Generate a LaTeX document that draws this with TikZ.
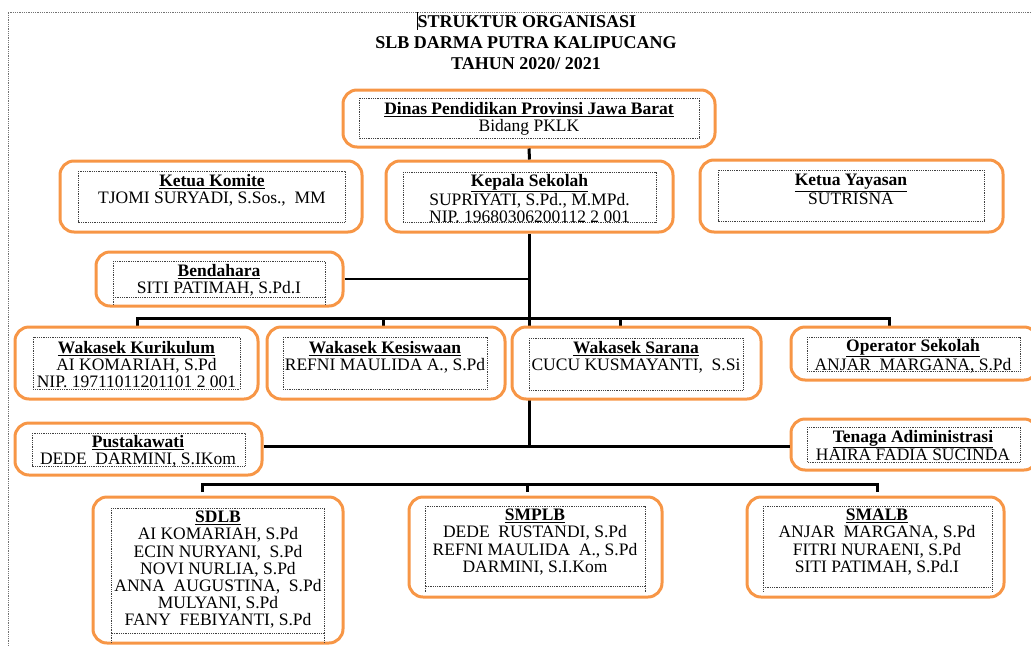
\documentclass[tikz,border=0pt]{standalone}
\usepackage{fontspec}
\setmainfont{Liberation Serif}
\usetikzlibrary{calc}
\definecolor{borange}{RGB}{247,150,70}
\newcommand{\orgbox}[9]{%
  \node[obx, minimum width={(#4-#2)*1pt}, minimum height={(#5-#3)*1pt}] (#1) at ({(#2+#4)/2},{(#3+#5)/2}) {};
  \draw[inbox] (#6,#7) rectangle (#8,#9);}
\newcommand{\hd}[1]{\textbf{\underline{#1}}}
\begin{document}
\begin{tikzpicture}[x=1pt,y=-1pt,
  obx/.style={draw=borange, line width=3pt, rounded corners=14pt, fill=white, inner sep=0pt},
  inbox/.style={draw=black!75, densely dotted, line width=0.8pt},
  conn/.style={draw=black, line width=3pt, line join=miter},
  txt/.style={align=center, inner sep=0pt, anchor=north, font=\fontsize{17.5}{17.2}\selectfont},
  ttl/.style={inner sep=0pt, font=\fontsize{18}{20}\selectfont\bfseries},
  pageb/.style={draw=black!55, densely dotted, line width=0.8pt}
]
\useasboundingbox (0,0) rectangle (1031,646);
% page border
\draw[pageb] (1031,12) -- (8,12) -- (8,646);
% title
\node[ttl] (t1) at (527,22) {STRUKTUR ORGANISASI};
\node[ttl] (t2) at (526,43) {SLB DARMA PUTRA KALIPUCANG};
\node[ttl] (t3) at (526,64) {TAHUN 2020/ 2021};
\draw[black, line width=1.2pt] (t1.west |- 0,12) -- (t1.west |- 0,30);

% coordinates for connectors
\coordinate (pj) at (530,446);
\coordinate (b1L) at (137,318);
\coordinate (b1K) at (383,318);
\coordinate (b1S) at (620,318);
\coordinate (b1R) at (889,318);
\coordinate (b3L) at (202,484);
\coordinate (b3M) at (527,484);
\coordinate (b3R) at (877,484);

% --- upper boxes ---
\orgbox{dinas}{343}{90}{715}{147}{359}{98}{699}{138}
\orgbox{komite}{60}{161}{362}{232}{78}{171}{345}{222}
\orgbox{kepala}{386}{161}{673}{232}{403}{172}{656}{222}
\orgbox{yayasan}{700}{160}{1003}{232}{718}{170}{984}{221}
\orgbox{bend}{96}{252}{343}{306}{113}{261}{325}{297}
\draw[inbox] (113,297) -- (113,305) (325,297) -- (325,305);

% connectors that lie behind the lower boxes
\draw[conn] (dinas.south) -- (kepala.north);
\draw[conn] (kepala.south) -- (kepala.south |- pj);
\draw[conn, line width=2.2pt] (bend.east) -- (bend.east -| kepala.south);
\draw[conn] ($(b1L)+(0,9)$) -- (b1L) -- (b1R) -- ($(b1R)+(0,9)$);
\draw[conn] (b1K) -- ++(0,8);
\draw[conn] (b1S) -- ++(0,8);
\draw[conn] ($(b3L)+(0,8)$) -- (b3L) -- (b3R) -- ($(b3R)+(0,8)$);
\draw[conn] (b3M) -- ++(0,8);

% --- lower boxes ---
\orgbox{kur}{15}{327}{258}{399}{33}{337}{240}{389}
\orgbox{kes}{267}{327}{505}{399}{283}{337}{487}{389}
\orgbox{sar}{512}{327}{761}{399}{529}{338}{743}{390}
\orgbox{op}{791}{327}{1038}{380}{807}{337}{1020}{371}
\orgbox{pust}{15}{423}{262}{475}{32}{433}{245}{466}
\orgbox{ten}{791}{419}{1038}{470}{807}{427}{1020}{462}
\orgbox{sdlb}{93}{497}{343}{643}{111}{508}{324}{633}
\draw[inbox] (111,633) -- (111,643) (324,633) -- (324,643);
\orgbox{smplb}{409}{497}{662}{597}{425}{506}{645}{586}
\draw[inbox] (425,586) -- (425,592) (645,586) -- (645,592);
\orgbox{smalb}{747}{497}{1004}{597}{763}{506}{992}{587}
\draw[inbox] (763,587) -- (763,592) (992,587) -- (992,592);

\draw[conn] (pust.east |- pj) -- (ten.west |- pj);

% --- texts ---
\node[txt] (dinast) at (529,102) {\hd{Dinas Pendidikan Provinsi Jawa Barat}\\Bidang PKLK};
\node[txt] (komitet) at (212,174) {\hd{Ketua Komite}\\TJOMI SURYADI, S.Sos.,\ \ MM};
\node[txt] (kepalat) at (529.5,174) {\hd{Kepala Sekolah}\\SUPRIYATI, S.Pd., M.MPd.\\NIP. 19680306200112 2 001};
\node[txt] (yayasant) at (851,174) {\hd{Ketua Yayasan}\\SUTRISNA};
\node[txt] (bendt) at (219,264) {\hd{Bendahara}\\SITI PATIMAH, S.Pd.I};
\node[txt] (kurt) at (136.5,341) {\hd{Wakasek Kurikulum}\\AI KOMARIAH, S.Pd\\NIP. 19711011201101 2 001};
\node[txt] (kest) at (385,341) {\hd{Wakasek Kesiswaan}\\REFNI MAULIDA A., S.Pd};
\node[txt] (sart) at (636,341) {\hd{Wakasek Sarana}\\CUCU KUSMAYANTI,\ \ S.Si};
\node[txt] (opt) at (913,339) {\hd{Operator Sekolah}\\ANJAR\ \ MARGANA, S.Pd};
\node[txt] (pustt) at (138,435) {\hd{Pustakawati}\\DEDE\ \ DARMINI, S.IKom};
\node[txt] (tent) at (913,430) {\hd{Tenaga Adiministrasi}\\HAIRA FADIA SUCINDA};
\node[txt] (sdlbt) at (218,511) {\hd{SDLB}\\AI KOMARIAH, S.Pd\\ECIN NURYANI,\ \ S.Pd\\NOVI NURLIA, S.Pd\\ANNA\ \ AUGUSTINA,\ \ S.Pd\\MULYANI, S.Pd\\FANY\ \ FEBIYANTI, S.Pd};
\node[txt] (smplbt) at (535,509) {\hd{SMPLB}\\DEDE\ \ RUSTANDI, S.Pd\\REFNI MAULIDA\ \ A., S.Pd\\DARMINI, S.I.Kom};
\node[txt] (smalbt) at (877,509) {\hd{SMALB}\\ANJAR\ \ MARGANA, S.Pd\\FITRI NURAENI, S.Pd\\SITI PATIMAH, S.Pd.I};
\end{tikzpicture}
\end{document}
